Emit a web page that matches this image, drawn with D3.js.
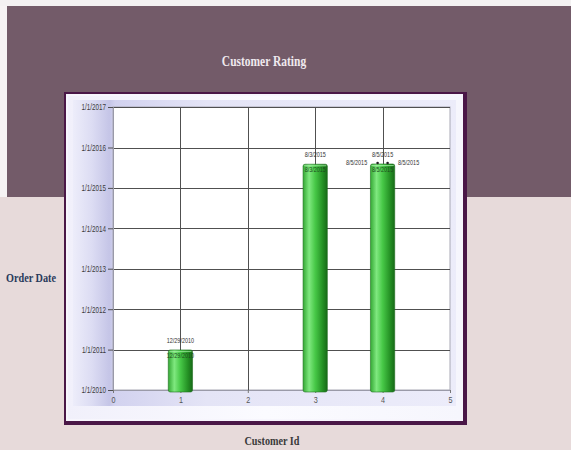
<!DOCTYPE html>
<html>
<head>
<meta charset="utf-8">
<script src="https://cdn.jsdelivr.net/npm/d3@7"></script>
<style>
  html, body { margin: 0; padding: 0; background: #e7dada; }
  svg { display: block; }
</style>
</head>
<body>
<svg id="chart" width="571" height="450"></svg>
<script>
// Orders per customer: customer id and order date (M/D/YYYY)
const customerIds = [1, 3, 4, 4, 4];
const orderDates = ["12/29/2010", "8/3/2015", "8/5/2015", "8/5/2015", "8/5/2015"];
const xTicks = [0, 1, 2, 3, 4, 5];
const yTickYears = [2010, 2011, 2012, 2013, 2014, 2015, 2016, 2017];
const chartTitle = "Customer Rating";
const xTitle = "Customer Id";
const yTitle = "Order Date";

const parse = d3.timeParse("%m/%d/%Y");
const orders = customerIds.map((c, i) => ({ customer: c, label: orderDates[i], date: parse(orderDates[i]) }));
const bars = d3.groups(orders, d => d.customer).map(([customer, list]) => ({
  customer, list, date: d3.max(list, d => d.date), label: list[0].label
}));

const svg = d3.select("#chart");
const defs = svg.append("defs");

// page bands
svg.append("rect").attr("x", 0).attr("y", 0).attr("width", 571).attr("height", 450).attr("fill", "#e7dada");
svg.append("rect").attr("x", 0).attr("y", 0).attr("width", 571).attr("height", 6).attr("fill", "#f3f1f2");
svg.append("rect").attr("x", 0).attr("y", 6).attr("width", 7).attr("height", 191).attr("fill", "#f6f3f4");
svg.append("rect").attr("x", 7).attr("y", 6).attr("width", 564).attr("height", 191).attr("fill", "#735b69");

// title
const condensed = (sel, sx) => sel.attr("transform", function () {
  const x = +this.getAttribute("data-x"), y = +this.getAttribute("data-y");
  return `translate(${x},${y}) scale(${sx},1)`;
});
svg.append("text").text(chartTitle)
  .attr("data-x", 264).attr("data-y", 66)
  .attr("text-anchor", "middle")
  .attr("font-family", "Liberation Serif, serif").attr("font-weight", "bold").attr("font-size", 14)
  .attr("fill", "#efe9ee").call(condensed, 0.82);

// panel gradients
const panelGrad = defs.append("linearGradient").attr("id", "panelGrad").attr("x1", 0).attr("x2", 1).attr("y1", 0).attr("y2", 0);
panelGrad.append("stop").attr("offset", 0).attr("stop-color", "#f1f0fb");
panelGrad.append("stop").attr("offset", 0.5).attr("stop-color", "#fbfbff");
panelGrad.append("stop").attr("offset", 1).attr("stop-color", "#f6f6fd");

const wallGrad = defs.append("linearGradient").attr("id", "wallGrad").attr("x1", 0).attr("x2", 1).attr("y1", 0).attr("y2", 0);
wallGrad.append("stop").attr("offset", 0).attr("stop-color", "#ededfa");
wallGrad.append("stop").attr("offset", 0.05).attr("stop-color", "#dcdcf3");
wallGrad.append("stop").attr("offset", 0.095).attr("stop-color", "#c5c5e7");
wallGrad.append("stop").attr("offset", 0.11).attr("stop-color", "#d2d2ef");
wallGrad.append("stop").attr("offset", 0.35).attr("stop-color", "#e4e4f6");
wallGrad.append("stop").attr("offset", 1).attr("stop-color", "#ececfa");

const barGrad = defs.append("linearGradient").attr("id", "barGrad").attr("x1", 0).attr("x2", 1).attr("y1", 0).attr("y2", 0);
barGrad.append("stop").attr("offset", 0).attr("stop-color", "#34a834");
barGrad.append("stop").attr("offset", 0.25).attr("stop-color", "#7fe87f");
barGrad.append("stop").attr("offset", 0.5).attr("stop-color", "#47c847");
barGrad.append("stop").attr("offset", 0.8).attr("stop-color", "#259225");
barGrad.append("stop").attr("offset", 1).attr("stop-color", "#176a17");

// panel frame
svg.append("rect").attr("x", 64).attr("y", 92).attr("width", 403).attr("height", 333).attr("fill", "#4a1747");
svg.append("rect").attr("x", 66).attr("y", 94).attr("width", 397).attr("height", 327).attr("fill", "#f7f6fd");
svg.append("rect").attr("x", 68).attr("y", 96).attr("width", 393).attr("height", 323).attr("fill", "url(#panelGrad)");
// lavender wall behind the plot
svg.append("rect").attr("x", 73).attr("y", 100).attr("width", 383).attr("height", 306).attr("fill", "url(#wallGrad)");

// scales
const plotL = 113, plotR = 450, plotT = 107, plotB = 390;
const x = d3.scaleLinear().domain([0, 5]).range([plotL, plotR]);
const y = d3.scaleTime().domain([new Date(2010, 0, 1), new Date(2017, 0, 1)]).range([plotB, plotT]);

// plot area
svg.append("rect").attr("x", plotL).attr("y", plotT).attr("width", plotR - plotL).attr("height", plotB - plotT)
  .attr("fill", "#ffffff").attr("stroke", "#a8a8b4").attr("stroke-width", 1);

const fmt = d3.timeFormat("%-m/%-d/%Y");
const yTicks = yTickYears.map(yr => new Date(yr, 0, 1));

// grid
svg.append("g").selectAll("line").data(yTicks).join("line")
  .attr("x1", plotL).attr("x2", plotR)
  .attr("y1", d => Math.round(y(d)) + 0.5).attr("y2", d => Math.round(y(d)) + 0.5)
  .attr("stroke", "#505050").attr("stroke-width", 1);
svg.append("g").selectAll("line").data(xTicks.filter(v => v > 0 && v < 5)).join("line")
  .attr("y1", plotT).attr("y2", plotB)
  .attr("x1", d => Math.round(x(d)) + 0.5).attr("x2", d => Math.round(x(d)) + 0.5)
  .attr("stroke", "#505050").attr("stroke-width", 1);

// axes
const yAxis = svg.append("g").attr("transform", `translate(${plotL},0)`)
  .call(d3.axisLeft(y).tickValues(yTicks).tickFormat(fmt).tickSize(5).tickPadding(2));
yAxis.select(".domain").attr("stroke", "#9a9aa8");
yAxis.selectAll(".tick line").attr("stroke", "#505050");
yAxis.selectAll("text").attr("font-family", "Liberation Sans, Arial, sans-serif").attr("font-size", 9)
  .attr("fill", "#3c3c3c").attr("dy", "0.32em")
  .attr("transform", "translate(-7,0) scale(0.7,1) translate(7,0)");

const xAxis = svg.append("g").attr("transform", `translate(0,${plotB})`)
  .call(d3.axisBottom(x).tickValues(xTicks).tickFormat(d3.format("d")).tickSize(3).tickPadding(4));
xAxis.select(".domain").attr("stroke", "#9a9aa8");
xAxis.selectAll(".tick line").attr("stroke", "#777");
xAxis.selectAll("text").attr("font-family", "Liberation Sans, Arial, sans-serif").attr("font-size", 9)
  .attr("fill", "#555").attr("transform", "scale(0.8,1)");

// bars
const half = (x(0.18) - x(0));
const barG = svg.append("g");
barG.selectAll("rect.bar").data(bars).join("rect").attr("class", "bar")
  .attr("x", d => x(d.customer) - half).attr("width", 2 * half)
  .attr("y", d => y(d.date)).attr("height", d => plotB + 2 - y(d.date))
  .attr("rx", 2).attr("ry", 2)
  .attr("fill", "url(#barGrad)").attr("stroke", "#1e6e1e").attr("stroke-width", 0.6);
// top rim highlight
barG.selectAll("line.rim").data(bars).join("line").attr("class", "rim")
  .attr("x1", d => x(d.customer) - half + 1).attr("x2", d => x(d.customer) + half - 1)
  .attr("y1", d => y(d.date) + 1.5).attr("y2", d => y(d.date) + 1.5)
  .attr("stroke", "#a8f0a8").attr("stroke-width", 1).attr("opacity", 0.7);

// labels
const labelFont = "Liberation Sans, Arial, sans-serif";
function smallText(g, tx, ty, s, fill) {
  g.append("text").text(s)
    .attr("transform", `translate(${tx},${ty}) scale(0.68,1)`)
    .attr("text-anchor", "middle").attr("font-family", labelFont).attr("font-size", 8)
    .attr("fill", fill);
}
const lblG = svg.append("g");
bars.forEach(b => {
  const cx = x(b.customer), top = y(b.date);
  // date inside the bar top
  smallText(lblG, cx, top + 8, b.label, "#1d4d1d");
  // one label per order above the bar; extra orders spread left and right
  b.list.forEach((o, i) => {
    if (i === 0) {
      smallText(lblG, cx, top - 7, o.label, "#333");
    } else {
      const side = i % 2 === 1 ? -1 : 1;
      smallText(lblG, cx + side * 26, top + 1, o.label, "#333");
      lblG.append("circle").attr("cx", cx + side * 5).attr("cy", top - 1).attr("r", 1.3).attr("fill", "#222");
    }
  });
});

// axis titles
svg.append("text").text(yTitle)
  .attr("data-x", 31).attr("data-y", 282).attr("text-anchor", "middle")
  .attr("font-family", "Liberation Serif, serif").attr("font-weight", "bold").attr("font-size", 12)
  .attr("fill", "#2a3a5c").call(condensed, 0.85);
svg.append("text").text(xTitle)
  .attr("data-x", 272).attr("data-y", 445).attr("text-anchor", "middle")
  .attr("font-family", "Liberation Serif, serif").attr("font-weight", "bold").attr("font-size", 12)
  .attr("fill", "#3a3a3a").call(condensed, 0.85);
</script>
</body>
</html>
